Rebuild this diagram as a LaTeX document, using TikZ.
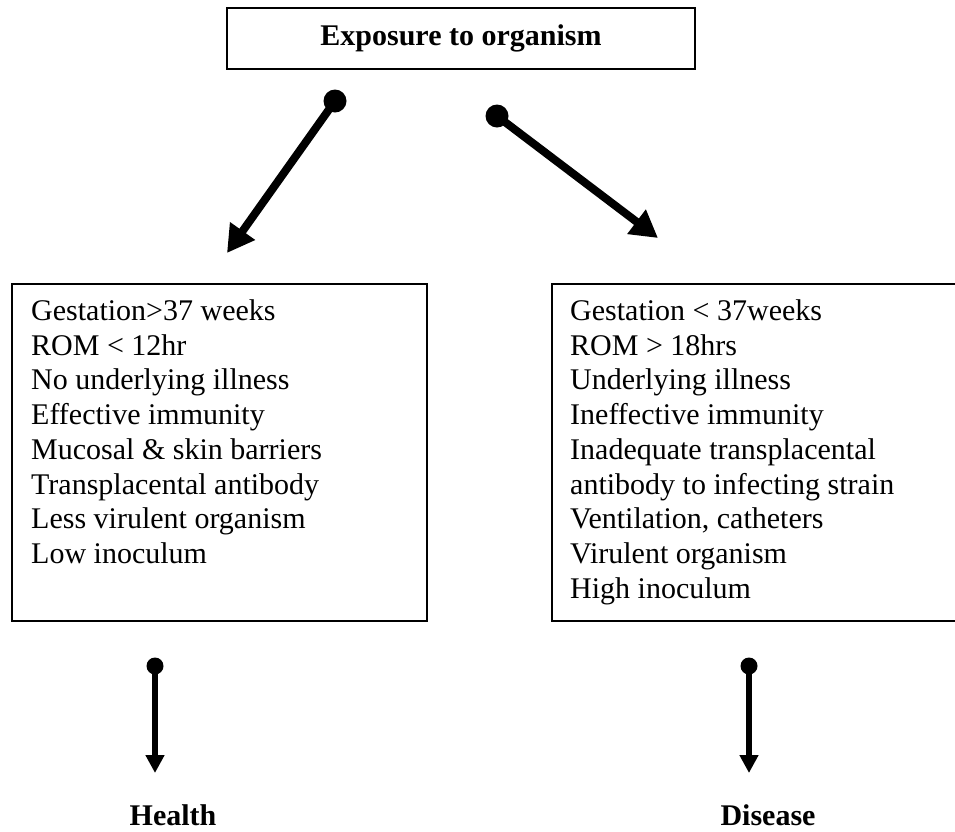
\documentclass[tikz,border=0pt]{standalone}
\usepackage{fontspec}
\setmainfont{Liberation Serif}
\usetikzlibrary{arrows.meta}
\begin{document}
\begin{tikzpicture}[x=1pt,y=-1pt,
  box/.style={draw, line width=1.6pt, inner sep=0pt, anchor=north west},
  lines/.style={anchor=north west, inner sep=0pt, align=left, font=\fontsize{30}{34.7}\selectfont},
  title/.style={font=\fontsize{30}{36}\selectfont\bfseries},
  dot/.style={circle, fill, inner sep=0pt, minimum size=#1},
  bigarr/.style={line width=8pt, -{Triangle[length=27pt,width=29pt]}},
  smallarr/.style={line width=5.5pt, -{Triangle[length=18pt,width=18pt]}}
]
\useasboundingbox (0,0) rectangle (955,831);
\clip (0,0) rectangle (955,831);

\node[draw, line width=1.6pt, minimum width=468pt, minimum height=61pt, title] (top) at (461,38.5) {Exposure to organism};

\node[box, minimum width=415pt, minimum height=337pt] (lbox) at (11,283) {};
\node[lines] (ltxt) at (31,299.5) {Gestation>37 weeks\\ROM < 12hr\\No underlying illness\\Effective immunity\\Mucosal \& skin barriers\\Transplacental antibody\\Less virulent organism\\Low inoculum};

\node[box, minimum width=420pt, minimum height=337pt] (rbox) at (551,283) {};
\node[lines] (rtxt) at (570,299.5) {Gestation < 37weeks\\ROM > 18hrs\\Underlying illness\\Ineffective immunity\\Inadequate transplacental\\antibody to infecting strain\\Ventilation, catheters\\Virulent organism\\High inoculum};

\node[dot=23pt] (d1) at (335,101) {};
\coordinate (t1) at (227,253);
\draw[bigarr] (d1.center) -- (t1);
\node[dot=23pt] (d2) at (497,116) {};
\coordinate (t2) at (658,238);
\draw[bigarr] (d2.center) -- (t2);

\node[dot=17pt] (d3) at (155,666) {};
\coordinate (t3) at (155,773);
\draw[smallarr] (d3.center) -- (t3);
\node[title, anchor=base] (health) at (173,825) {Health};

\node[dot=17pt] (d4) at (749,666) {};
\coordinate (t4) at (749,773);
\draw[smallarr] (d4.center) -- (t4);
\node[title, anchor=base] (disease) at (768,825) {Disease};
\end{tikzpicture}
\end{document}
